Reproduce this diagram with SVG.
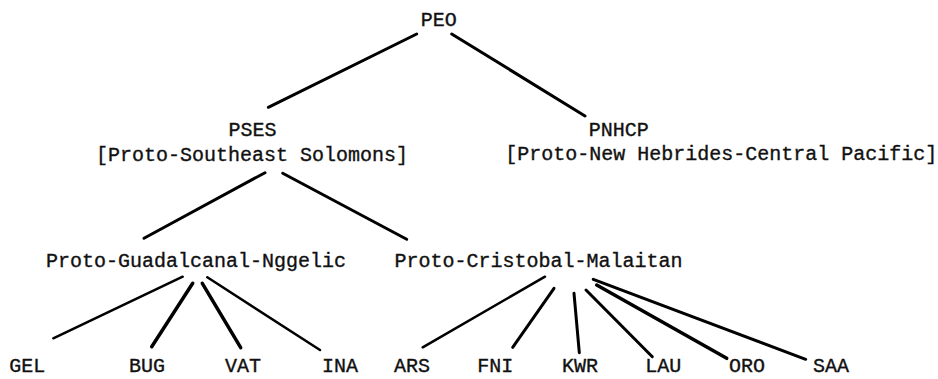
<svg xmlns="http://www.w3.org/2000/svg" width="938" height="379" viewBox="0 0 938 379">
<style>
text{font-family:"Liberation Mono","Courier New",monospace;font-size:20px;fill:#111;stroke:#111;stroke-width:0.35;text-anchor:middle}
.c line{stroke:#000;stroke-width:3;stroke-linecap:round}
.c line.t{stroke-width:2.5}
.c line.k{stroke-width:3.5}
</style>
<rect width="938" height="379" fill="#fff"/>
<g class="c" id="connectors">
<line x1="416.7" y1="34" x2="268.3" y2="107.3"/>
<line x1="451.7" y1="34" x2="585" y2="116"/>
<line x1="265" y1="172.7" x2="144" y2="238.3"/>
<line x1="282.7" y1="173.3" x2="406.7" y2="239.3"/>
<line class="t" x1="182.7" y1="276.7" x2="53.3" y2="338.3"/>
<line class="k" x1="192.7" y1="283.3" x2="151.7" y2="346.7"/>
<line class="k" x1="202.3" y1="283.3" x2="240.7" y2="347.7"/>
<line class="t" x1="207.3" y1="277.3" x2="320" y2="350"/>
<line class="t" x1="545" y1="276.7" x2="422.7" y2="347.3"/>
<line x1="554" y1="288.3" x2="512.7" y2="347.3"/>
<line x1="574" y1="293.3" x2="579.3" y2="352.7"/>
<line x1="586" y1="290" x2="652.3" y2="356.7"/>
<line class="k" x1="596.7" y1="285" x2="726.7" y2="358.3"/>
<line x1="593.3" y1="279.3" x2="805.7" y2="359.3"/>
</g>
<g id="PEO"><text x="438.7" y="26">PEO</text></g>
<g id="PSES"><text x="252.5" y="136">PSES</text><text x="252" y="161">[Proto-Southeast Solomons]</text></g>
<g id="PNHCP"><text x="618.7" y="136">PNHCP</text><text x="721.3" y="160">[Proto-New Hebrides-Central Pacific]</text></g>
<g id="PGN"><text x="196" y="266.7">Proto-Guadalcanal-Nggelic</text></g>
<g id="PCM"><text x="538.5" y="266.7">Proto-Cristobal-Malaitan</text></g>
<g id="GEL"><text x="27.2" y="372">GEL</text></g>
<g id="BUG"><text x="147" y="372">BUG</text></g>
<g id="VAT"><text x="243" y="372">VAT</text></g>
<g id="INA"><text x="340" y="372">INA</text></g>
<g id="ARS"><text x="412" y="372">ARS</text></g>
<g id="FNI"><text x="495.3" y="372">FNI</text></g>
<g id="KWR"><text x="580" y="372">KWR</text></g>
<g id="LAU"><text x="663.3" y="372">LAU</text></g>
<g id="ORO"><text x="747" y="372">ORO</text></g>
<g id="SAA"><text x="831" y="372">SAA</text></g>
</svg>
